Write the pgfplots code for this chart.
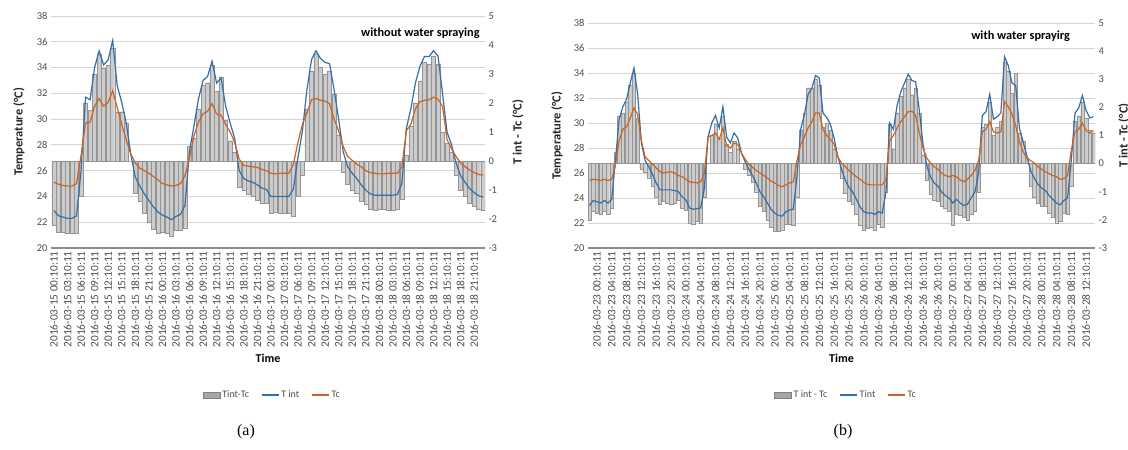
\documentclass[border=0pt]{standalone}
\usepackage{fontspec}
\setmainfont{Carlito}
\newfontfamily\timesfont{Liberation Serif}
\usepackage{pgfplots}
\usepackage{pgfplotstable}
\pgfplotsset{compat=1.18}

\definecolor{tintblue}{RGB}{52,110,170}
\definecolor{tcorange}{RGB}{205,100,30}

% panel (a): hours from 2016-03-15 00:10:11
\pgfplotstableread{
h ti tc
0 22.9 25.1
1 22.5 24.95
2 22.4 24.85
3 22.3 24.8
4 22.3 24.8
5 22.5 25.0
6 26.0 27.2
7 31.7 29.7
8 31.5 29.75
9 34.0 31.0
10 35.3 31.6
11 34.2 31.0
12 34.6 31.3
13 36.1 32.2
14 32.6 30.9
15 31.3 29.6
16 29.7 28.4
17 27.3 27.3
18 25.5 26.6
19 24.8 26.2
20 24.2 26.0
21 23.7 25.8
22 23.2 25.55
23 22.8 25.3
24 22.55 25.0
25 22.4 24.9
26 22.2 24.8
27 22.45 24.85
28 22.6 25.0
29 23.3 25.6
30 27.5 27.0
31 29.5 28.7
32 31.6 29.8
33 33.0 30.4
34 33.3 30.6
35 34.5 31.2
36 32.8 30.4
37 33.2 30.3
38 31.0 29.6
39 29.7 29.0
40 28.5 28.2
41 26.0 26.9
42 25.4 26.4
43 25.2 26.35
44 25.1 26.3
45 24.9 26.25
46 24.65 26.1
47 24.55 26.0
48 24.0 25.8
49 24.0 25.75
50 24.0 25.8
51 24.0 25.8
52 24.0 25.8
53 24.6 26.5
54 27.0 28.2
55 29.1 29.6
56 32.3 30.5
57 34.6 31.5
58 35.3 31.6
59 34.7 31.45
60 34.4 31.4
61 34.3 31.2
62 32.3 30.0
63 30.0 29.1
64 27.5 27.9
65 26.3 27.1
66 25.8 26.8
67 25.4 26.5
68 24.9 26.3
69 24.5 26.0
70 24.2 25.85
71 24.1 25.8
72 24.1 25.75
73 24.1 25.75
74 24.1 25.8
75 24.1 25.8
76 24.15 25.8
77 25.0 26.3
78 29.3 29.1
79 30.8 29.6
80 32.8 30.8
81 34.1 31.35
82 34.85 31.45
83 34.85 31.5
84 35.3 31.7
85 34.9 31.55
86 32.0 31.0
87 29.0 28.4
88 28.0 27.7
89 26.6 27.1
90 25.6 26.6
91 25.1 26.3
92 24.6 26.05
93 24.3 25.85
94 24.05 25.7
95 23.95 25.65
}\dataA

% panel (b): hours from 2016-03-23 00:10:11
\pgfplotstableread{
h ti tc
-2 23.4 25.4
-1 23.8 25.5
0 23.7 25.45
1 23.6 25.4
2 23.8 25.5
3 23.6 25.4
4 23.9 25.5
5 27.0 26.6
6 30.3 28.6
7 31.3 29.5
8 31.9 29.7
9 33.2 30.4
10 34.4 31.2
11 32.3 30.7
12 28.4 28.6
13 27.0 27.3
14 26.5 27.0
15 25.9 26.7
16 25.2 26.4
17 24.65 26.1
18 24.65 26.0
19 24.65 26.05
20 24.65 26.1
21 24.6 26.0
22 24.5 25.8
23 24.1 25.7
24 23.85 25.5
25 23.2 25.3
26 23.1 25.25
27 23.15 25.2
28 23.2 25.3
29 24.8 26.0
30 28.9 28.9
31 30.0 29.0
32 30.6 29.2
33 29.6 28.7
34 31.3 29.6
35 28.9 28.2
36 28.4 28.0
37 29.2 28.4
38 28.8 28.3
39 27.6 27.6
40 26.9 27.1
41 26.3 26.7
42 25.8 26.45
43 25.2 26.2
44 24.5 26.0
45 24.1 25.8
46 23.6 25.6
47 23.1 25.35
48 22.8 25.2
49 22.6 25.0
50 22.55 24.9
51 22.9 25.05
52 23.05 25.2
53 23.1 25.3
54 25.8 27.0
55 29.5 28.3
56 30.7 28.9
57 32.3 29.6
58 32.8 30.1
59 33.8 30.8
60 33.6 30.8
61 30.8 29.5
62 30.45 29.0
63 29.9 28.7
64 28.8 28.3
65 27.3 27.3
66 26.3 26.8
67 25.45 26.5
68 24.85 26.2
69 24.5 25.95
70 23.9 25.7
71 23.3 25.5
72 22.9 25.25
73 22.8 25.1
74 22.8 25.05
75 22.7 25.05
76 22.9 25.05
77 22.8 25.05
78 24.5 25.5
79 30.0 28.6
80 29.5 29.0
81 31.4 29.6
82 32.5 30.1
83 33.2 30.5
84 33.9 30.9
85 33.4 30.95
86 33.3 30.6
87 31.0 29.2
88 28.3 28.0
89 26.6 27.2
90 25.7 26.8
91 25.2 26.5
92 24.95 26.3
93 24.5 26.0
94 24.2 25.8
95 24.0 25.7
96 23.6 25.8
97 23.9 25.7
98 23.6 25.45
99 23.4 25.3
100 23.5 25.5
101 24.0 25.8
102 24.5 26.2
103 26.0 27.0
104 30.6 29.3
105 30.9 29.5
106 32.3 30.1
107 30.3 29.3
108 30.5 29.2
109 30.8 29.3
110 35.3 31.7
111 34.6 31.3
112 33.2 30.7
113 33.0 29.8
114 29.6 28.5
115 28.5 27.7
116 27.4 27.2
117 26.2 27.0
118 25.6 26.8
119 25.1 26.5
120 24.8 26.3
121 24.6 26.1
122 24.2 25.95
123 23.9 25.8
124 23.6 25.7
125 23.45 25.5
126 23.8 25.55
127 24.0 25.8
128 27.0 27.8
129 30.8 29.3
130 31.2 29.5
131 32.2 30.0
132 31.0 29.4
133 30.4 29.2
134 30.5 29.4
}\dataB

\tikzset{lbl/.style={font=\bfseries\fontsize{12.5}{13}\selectfont, text=black!85}}

\pgfplotsset{
  base/.style={
    scale only axis, anchor=south west,
    axis line style={draw=none}, major tick length=0pt,
    tick label style={font=\fontsize{10.5}{11}\selectfont, text=black!70},
    /pgf/number format/assume math mode=true,
  },
  pa/.style={at={(51pt,202pt)}, width=434pt, height=232pt, xmin=-0.65, xmax=95.4},
  pb/.style={at={(588pt,202pt)}, width=507pt, height=225pt, xmin=-2.4, xmax=134.4},
  leftax/.style={
    ymin=20, ymax=38, ytick={20,22,...,38},
    ymajorgrids, grid style={black!17, line width=0.9pt},
    extra y ticks={20}, extra y tick labels={},
    extra y tick style={grid style={black!45, line width=1.4pt}},
    xticklabel style={rotate=90, anchor=east, font=\fontsize{11.3}{12}\selectfont, text=black!70},
    xlabel={Time}, xlabel style={font=\bfseries\fontsize{12}{13}\selectfont},
    ylabel={Temperature (°C)},
  },
  rightax/.style={
    ymin=-3, ymax=5, ytick={-3,...,5}, yticklabel pos=right, xtick=\empty,
    ylabel={T int - Tc (°C)},
  },
  bars/.style={ybar, bar width=0.9, fill=black!20, draw=black!42, line width=0.35pt},
}

\begin{document}
\begin{tikzpicture}
\path[use as bounding box] (0,0) rectangle (1128pt,450pt);

% ---------- panel (a) ----------
\begin{axis}[base, pa, leftax,
  ylabel style={lbl, at={(axis description cs:-0.074,0.5)}, anchor=center},
  xtick={0,3,...,93},
  xticklabels={2016-03-15 00:10:11,2016-03-15 03:10:11,2016-03-15 06:10:11,2016-03-15 09:10:11,2016-03-15 12:10:11,2016-03-15 15:10:11,2016-03-15 18:10:11,2016-03-15 21:10:11,
  2016-03-16 00:10:11,2016-03-16 03:10:11,2016-03-16 06:10:11,2016-03-16 09:10:11,2016-03-16 12:10:11,2016-03-16 15:10:11,2016-03-16 18:10:11,2016-03-16 21:10:11,
  2016-03-17 00:10:11,2016-03-17 03:10:11,2016-03-17 06:10:11,2016-03-17 09:10:11,2016-03-17 12:10:11,2016-03-17 15:10:11,2016-03-17 18:10:11,2016-03-17 21:10:11,
  2016-03-18 00:10:11,2016-03-18 03:10:11,2016-03-18 06:10:11,2016-03-18 09:10:11,2016-03-18 12:10:11,2016-03-18 15:10:11,2016-03-18 18:10:11,2016-03-18 21:10:11},
]
\node[anchor=north east, inner sep=0pt, font=\bfseries\fontsize{12.3}{13}\selectfont] at (axis description cs:0.988,0.95) {without water spraying};
\end{axis}
\begin{axis}[base, pa, rightax,
  ylabel style={lbl, at={(axis description cs:1.076,0.5)}, anchor=center}]
\addplot[bars] table[x=h, y expr=\thisrow{ti}-\thisrow{tc}] {\dataA};
\end{axis}
\begin{axis}[base, pa, ymin=20, ymax=38, hide axis,
  legend style={at={(axis description cs:0.51,-0.634)}, anchor=center, draw=none,
    font=\fontsize{10}{11}\selectfont, text=black!70, legend columns=3,
    /tikz/every even column/.append style={column sep=10pt}}]
\addlegendimage{area legend, fill=black!35, draw=black!50}
\addlegendentry{Tint-Tc}
\addplot[tintblue, line width=1.2pt] table[x=h, y=ti] {\dataA};
\addlegendentry{T int}
\addplot[tcorange, line width=1.2pt] table[x=h, y=tc] {\dataA};
\addlegendentry{Tc}
\end{axis}

% ---------- panel (b) ----------
\begin{axis}[base, pb, leftax,
  ylabel style={lbl, at={(axis description cs:-0.061,0.5)}, anchor=center},
  xtick={0,4,...,132},
  xticklabels={2016-03-23 00:10:11,2016-03-23 04:10:11,2016-03-23 08:10:11,2016-03-23 12:10:11,2016-03-23 16:10:11,2016-03-23 20:10:11,
  2016-03-24 00:10:11,2016-03-24 04:10:11,2016-03-24 08:10:11,2016-03-24 12:10:11,2016-03-24 16:10:11,2016-03-24 20:10:11,
  2016-03-25 00:10:11,2016-03-25 04:10:11,2016-03-25 08:10:11,2016-03-25 12:10:11,2016-03-25 16:10:11,2016-03-25 20:10:11,
  2016-03-26 00:10:11,2016-03-26 04:10:11,2016-03-26 08:10:11,2016-03-26 12:10:11,2016-03-26 16:10:11,2016-03-26 20:10:11,
  2016-03-27 00:10:11,2016-03-27 04:10:11,2016-03-27 08:10:11,2016-03-27 12:10:11,2016-03-27 16:10:11,2016-03-27 20:10:11,
  2016-03-28 00:10:11,2016-03-28 04:10:11,2016-03-28 08:10:11,2016-03-28 12:10:11},
]
\node[anchor=north east, inner sep=0pt, font=\bfseries\fontsize{12.3}{13}\selectfont] at (axis description cs:0.951,0.964) {with water sprayirg};
\end{axis}
\begin{axis}[base, pb, rightax,
  ylabel style={lbl, at={(axis description cs:1.057,0.5)}, anchor=center}]
\addplot[bars] table[x=h, y expr=\thisrow{ti}-\thisrow{tc}] {\dataB};
\end{axis}
\begin{axis}[base, pb, ymin=20, ymax=38, hide axis,
  legend style={at={(axis description cs:0.509,-0.653)}, anchor=center, draw=none,
    font=\fontsize{10}{11}\selectfont, text=black!70, legend columns=3,
    /tikz/every even column/.append style={column sep=10pt}}]
\addlegendimage{area legend, fill=black!35, draw=black!50}
\addlegendentry{T int - Tc}
\addplot[tintblue, line width=1.2pt] table[x=h, y=ti] {\dataB};
\addlegendentry{Tint}
\addplot[tcorange, line width=1.2pt] table[x=h, y=tc] {\dataB};
\addlegendentry{Tc}
\end{axis}

\node[font=\timesfont\fontsize{16}{16}\selectfont] at (246pt,18pt) {(a)};
\node[font=\timesfont\fontsize{16}{16}\selectfont] at (843pt,18pt) {(b)};
\end{tikzpicture}
\end{document}
